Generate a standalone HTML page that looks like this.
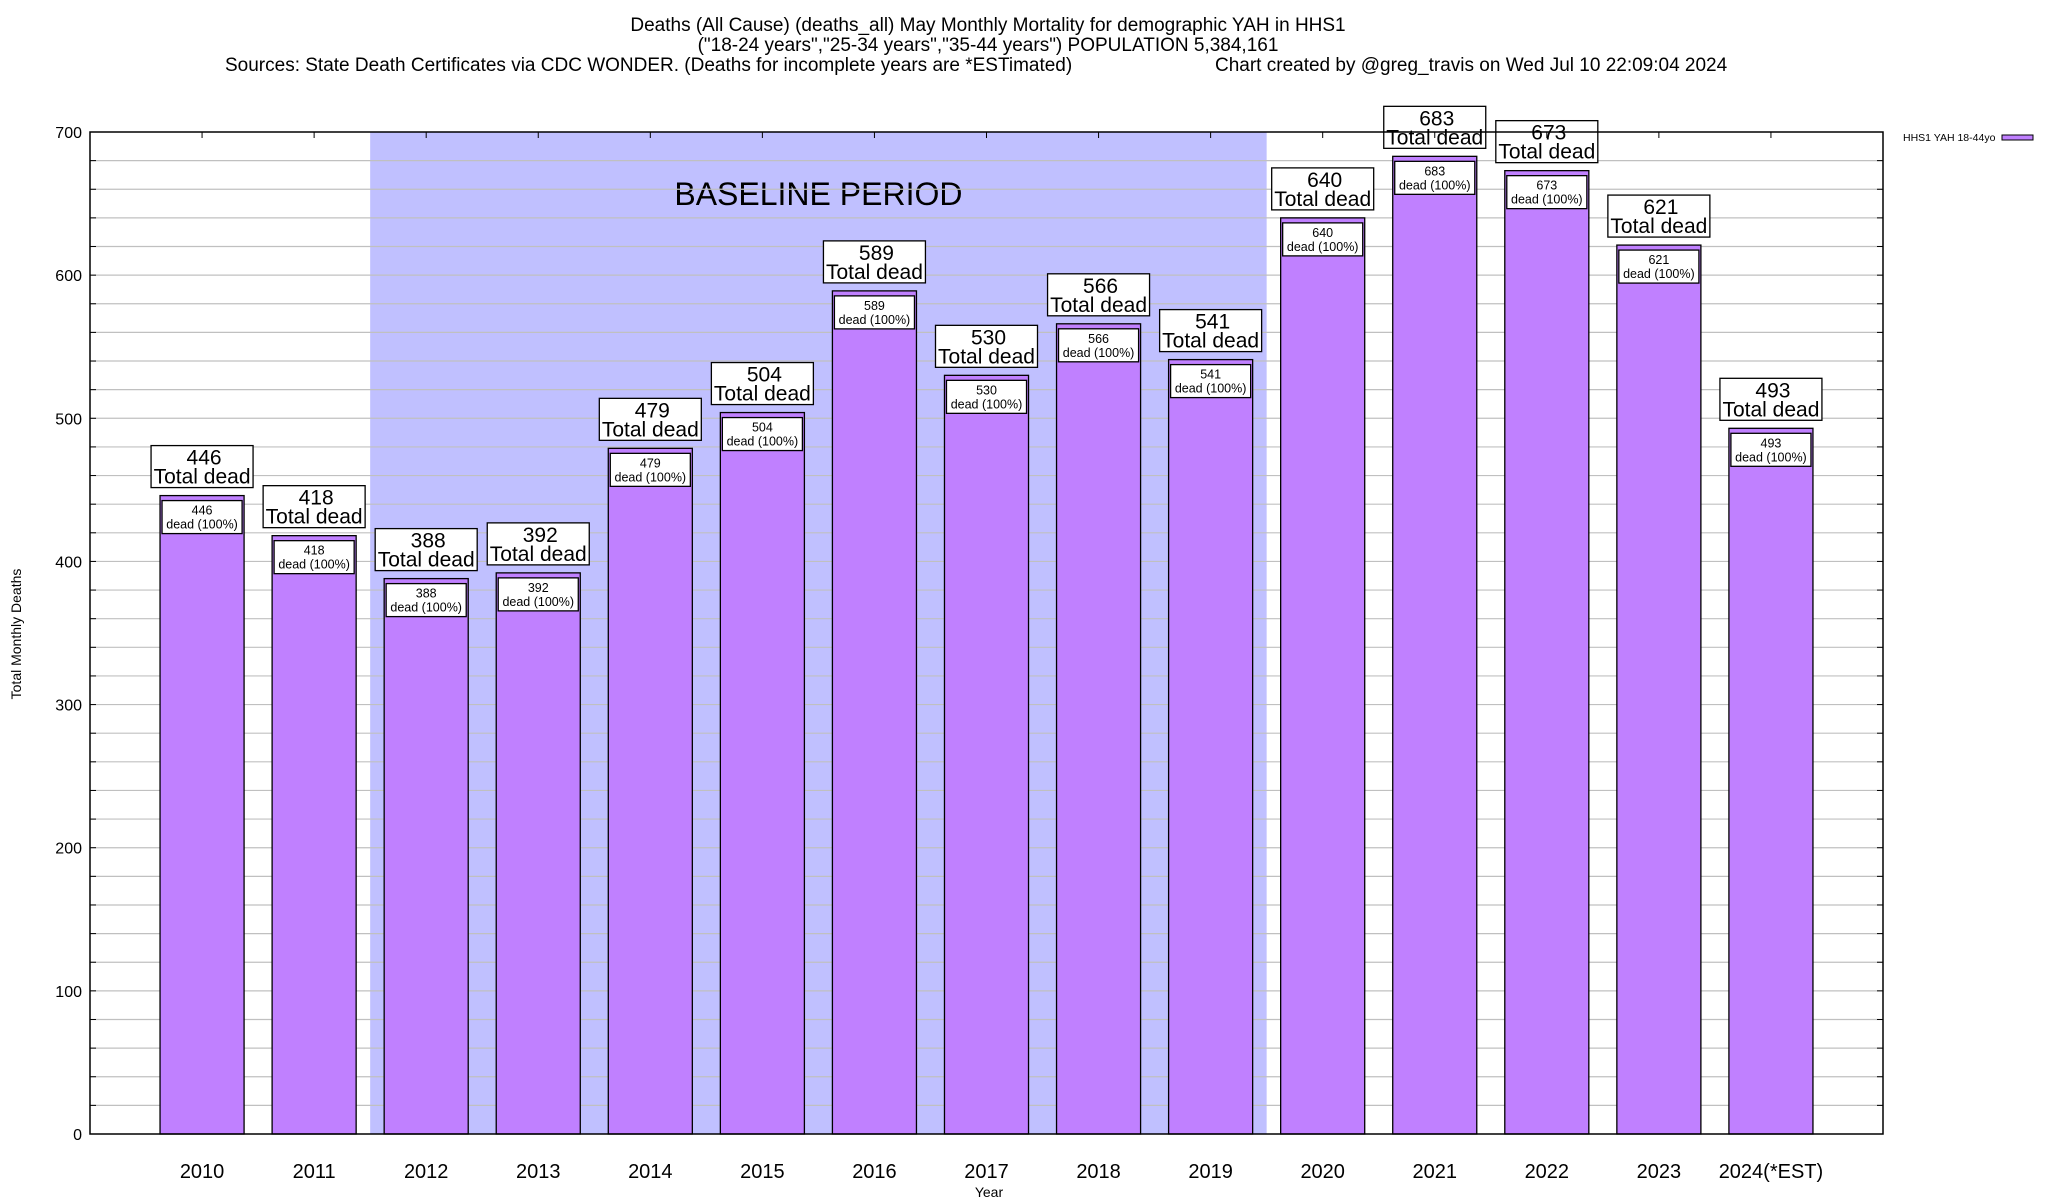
<!DOCTYPE html>
<html><head><meta charset="utf-8"><style>
html,body{margin:0;padding:0;background:#fff;}
svg{display:block;font-family:"Liberation Sans",sans-serif;}
</style></head><body>
<svg id="chart" width="2048" height="1200" viewBox="0 0 2048 1200">
<g font-size="19" fill="#000" text-anchor="middle">
<text x="988" y="31">Deaths (All Cause) (deaths_all) May Monthly Mortality for demographic YAH in HHS1</text>
<text x="988" y="51">("18-24 years","25-34 years","35-44 years") POPULATION 5,384,161</text>
<text x="225" y="71" text-anchor="start">Sources: State Death Certificates via CDC WONDER. (Deaths for incomplete years are *ESTimated)</text>
<text x="1215" y="71" text-anchor="start">Chart created by @greg_travis on Wed Jul 10 22:09:04 2024</text>
</g>
<g id="plot"></g>
</svg>
<script>
const categories = ["2010","2011","2012","2013","2014","2015","2016","2017","2018","2019","2020","2021","2022","2023","2024(*EST)"];
const deaths = [446,418,388,392,479,504,589,530,566,541,640,683,673,621,493];
const yTicks = [0,100,200,300,400,500,600,700];
const baselineRange = [2012, 2019];

const L=90, R=1883, T=132, B=1134;
const NS="http://www.w3.org/2000/svg";
const g=document.getElementById('plot');
const xS = i => L + (i+1)*(R-L)/(categories.length+1);
const yS = v => B - v*(B-T)/700;
const unit=(R-L)/(categories.length+1);
function mk(tag, attrs, parent){const e=document.createElementNS(NS,tag);for(const k in attrs)e.setAttribute(k,attrs[k]);(parent||g).appendChild(e);return e;}

const bi0=categories.indexOf(String(baselineRange[0])), bi1=categories.indexOf(String(baselineRange[1]));
const sh=mk('rect',{x:xS(bi0-0.5),y:T,width:xS(bi1+0.5)-xS(bi0-0.5),height:B-T,fill:'#c0c0ff'});


const bt=mk('text',{x:(xS(bi0-0.5)+xS(bi1+0.5))/2,y:205,'font-size':32,'text-anchor':'middle'});
bt.textContent='BASELINE PERIOD';



for(let v=20;v<700;v+=20){
  const ln=mk('line',{x1:L,x2:R,y1:yS(v),y2:yS(v),stroke:'#c0c0c0','stroke-width':1.2});
  
  
  mk('line',{x1:L,x2:L+6,y1:yS(v),y2:yS(v),stroke:'#000'});
  mk('line',{x1:R-6,x2:R,y1:yS(v),y2:yS(v),stroke:'#000'});
}
yTicks.forEach(v=>{
  const t=mk('text',{x:L-8,y:yS(v)+6,'font-size':16,'text-anchor':'end'});
  t.textContent=v;
  
  
});

const bw=unit*0.75;
deaths.forEach((v,i)=>{
  const cx=xS(i), top=yS(v);
  const r=mk('rect',{x:cx-bw/2,y:top,width:bw,height:B-top,fill:'#c080ff',stroke:'#000','stroke-width':1.3});
  
  
  const ib=mk('rect',{x:cx-bw/2+2,y:top+5,width:bw-4,height:33,fill:'#fff',stroke:'#000','stroke-width':1.3});
  
  
  const t1=mk('text',{x:cx,y:top+19,'font-size':12.5,'text-anchor':'middle'});t1.textContent=v;
  
  
  const t2=mk('text',{x:cx,y:top+33,'font-size':12.5,'text-anchor':'middle'});t2.textContent='dead (100%)';
  
  
  const ob=mk('rect',{x:cx-51,y:top-50,width:102,height:42,fill:'#fff',stroke:'#000','stroke-width':1.3});
  
  
  const t3=mk('text',{x:cx+2,y:top-31,'font-size':21,'text-anchor':'middle'});t3.textContent=v;
  
  
  const t4=mk('text',{x:cx,y:top-12,'font-size':21,'text-anchor':'middle'});t4.textContent='Total dead';
  
  
  const xl=mk('text',{x:cx,y:1178,'font-size':20,'text-anchor':'middle'});xl.textContent=categories[i];
  
  
  mk('line',{x1:cx,x2:cx,y1:T,y2:T+6,stroke:'#000'});
});

const fr=mk('rect',{x:L,y:T,width:R-L,height:B-T,fill:'none',stroke:'#000','stroke-width':1.5});



const yt=mk('text',{x:0,y:0,'font-size':14,'text-anchor':'middle',transform:'translate(21,634) rotate(-90)'});
yt.textContent='Total Monthly Deaths';


const xt=mk('text',{x:989,y:1197,'font-size':14,'text-anchor':'middle'});
xt.textContent='Year';



const lt=mk('text',{x:1903,y:141,'font-size':10.5});
lt.textContent='HHS1 YAH 18-44yo';


const ls=mk('rect',{x:2002,y:135,width:31,height:5,fill:'#c080ff',stroke:'#000','stroke-width':1});


</script>
</body></html>
